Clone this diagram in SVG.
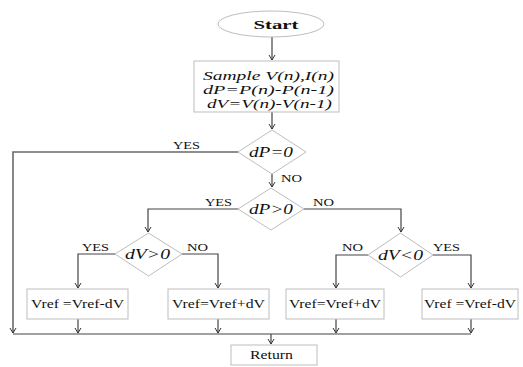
<svg xmlns="http://www.w3.org/2000/svg" width="523" height="367" viewBox="0 0 523 367">
  <defs>
    <marker id="arr" markerWidth="8" markerHeight="8" refX="6" refY="4" orient="auto" markerUnits="userSpaceOnUse">
      <path d="M1,1 L6,4 L1,7" fill="none" stroke="#333" stroke-width="1"/>
    </marker>
    <style>
      .shape { fill: #fff; stroke: #bdbdbd; stroke-width: 1; }
      .edge { fill: none; stroke: #444; stroke-width: 1.2; }
      .serif { font-family: "Liberation Serif", "Times New Roman", serif; fill: #111; }
      .math { font-style: italic; font-size: 15px; }
      .stack { font-style: italic; font-size: 12.5px; }
      .lbl { font-size: 11px; }
      .act { font-size: 12.5px; }
    </style>
  </defs>
  <rect width="523" height="367" fill="#fff"/>

  <!-- connectors -->
  <g id="connectors">
    <line class="edge" x1="272" y1="37" x2="272" y2="60" marker-end="url(#arr)"/>
    <line class="edge" x1="272" y1="112" x2="272" y2="129" marker-end="url(#arr)"/>
    <polyline class="edge" points="238,152 13,152 13,333" style="stroke:#6a6a6a;stroke-width:1.6" marker-end="url(#arr)"/>
    <line class="edge" x1="272" y1="174" x2="272" y2="187" marker-end="url(#arr)"/>
    <polyline class="edge" points="238,209 148,209 148,232" marker-end="url(#arr)"/>
    <polyline class="edge" points="304,209 401,209 401,232" marker-end="url(#arr)"/>
    <polyline class="edge" points="115,254 78,254 78,288" marker-end="url(#arr)"/>
    <polyline class="edge" points="182,254 218,254 218,288" marker-end="url(#arr)"/>
    <polyline class="edge" points="368,255 336,255 336,288" marker-end="url(#arr)"/>
    <polyline class="edge" points="433,255 471,255 471,288" marker-end="url(#arr)"/>
    <line class="edge" x1="78" y1="319" x2="78" y2="333" marker-end="url(#arr)"/>
    <line class="edge" x1="218" y1="319" x2="218" y2="333" marker-end="url(#arr)"/>
    <line class="edge" x1="336" y1="319" x2="336" y2="333" marker-end="url(#arr)"/>
    <line class="edge" x1="471" y1="319" x2="471" y2="333" marker-end="url(#arr)"/>
    <line class="edge" x1="13" y1="334" x2="471" y2="334"/>
    <line class="edge" x1="271" y1="334" x2="271" y2="344" marker-end="url(#arr)"/>

    <text class="serif lbl" x="173" y="149" textLength="27" lengthAdjust="spacingAndGlyphs">YES</text>
    <text class="serif lbl" x="281" y="182" textLength="21" lengthAdjust="spacingAndGlyphs">NO</text>
    <text class="serif lbl" x="205" y="206" textLength="27" lengthAdjust="spacingAndGlyphs">YES</text>
    <text class="serif lbl" x="313" y="206" textLength="21" lengthAdjust="spacingAndGlyphs">NO</text>
    <text class="serif lbl" x="82" y="251" textLength="27" lengthAdjust="spacingAndGlyphs">YES</text>
    <text class="serif lbl" x="187" y="251" textLength="21" lengthAdjust="spacingAndGlyphs">NO</text>
    <text class="serif lbl" x="342" y="251" textLength="21" lengthAdjust="spacingAndGlyphs">NO</text>
    <text class="serif lbl" x="433" y="251" textLength="27" lengthAdjust="spacingAndGlyphs">YES</text>
  </g>

  <g id="start">
    <ellipse class="shape" cx="271" cy="24" rx="53" ry="13"/>
    <text class="serif" x="276" y="29" text-anchor="middle" font-size="13" font-weight="bold" textLength="45" lengthAdjust="spacingAndGlyphs">Start</text>
  </g>

  <g id="sample">
    <rect class="shape" x="194" y="61" width="145" height="51"/>
    <text class="serif stack" x="203" y="80" textLength="131" lengthAdjust="spacingAndGlyphs">Sample V(n),I(n)</text>
    <text class="serif stack" x="203" y="94" textLength="131" lengthAdjust="spacingAndGlyphs">dP=P(n)-P(n-1)</text>
    <text class="serif stack" x="207" y="108" textLength="125" lengthAdjust="spacingAndGlyphs">dV=V(n)-V(n-1)</text>
  </g>

  <g id="dp-zero">
    <polygon class="shape" points="272,130 306,152 272,174 238,152"/>
    <text class="serif math" x="249" y="157" textLength="44" lengthAdjust="spacingAndGlyphs">dP=0</text>
  </g>

  <g id="dp-pos">
    <polygon class="shape" points="271,188 304,209 271,230 238,209"/>
    <text class="serif math" x="249" y="214" textLength="44" lengthAdjust="spacingAndGlyphs">dP&gt;0</text>
  </g>

  <g id="dv-pos">
    <polygon class="shape" points="148.5,233 182,254 148.5,276 115,254"/>
    <text class="serif math" x="125" y="259" textLength="45" lengthAdjust="spacingAndGlyphs">dV&gt;0</text>
  </g>

  <g id="dv-neg">
    <polygon class="shape" points="400.5,233 433,255 400.5,277 368,255"/>
    <text class="serif math" x="378" y="260" textLength="45" lengthAdjust="spacingAndGlyphs">dV&lt;0</text>
  </g>

  <g id="dec-left">
    <rect class="shape" x="27" y="289" width="101" height="30"/>
    <text class="serif act" x="31" y="308" textLength="93" lengthAdjust="spacingAndGlyphs">Vref =Vref-dV</text>
  </g>

  <g id="inc-left">
    <rect class="shape" x="168" y="289" width="101" height="30"/>
    <text class="serif act" x="172" y="308" textLength="93" lengthAdjust="spacingAndGlyphs">Vref=Vref+dV</text>
  </g>

  <g id="inc-right">
    <rect class="shape" x="286" y="289" width="98" height="30"/>
    <text class="serif act" x="289" y="308" textLength="92" lengthAdjust="spacingAndGlyphs">Vref=Vref+dV</text>
  </g>

  <g id="dec-right">
    <rect class="shape" x="422" y="289" width="96" height="30"/>
    <text class="serif act" x="424" y="308" textLength="92" lengthAdjust="spacingAndGlyphs">Vref =Vref-dV</text>
  </g>

  <g id="return">
    <rect class="shape" x="231" y="345" width="86" height="20"/>
    <text class="serif act" x="250" y="359" textLength="43" lengthAdjust="spacingAndGlyphs">Return</text>
  </g>
</svg>
